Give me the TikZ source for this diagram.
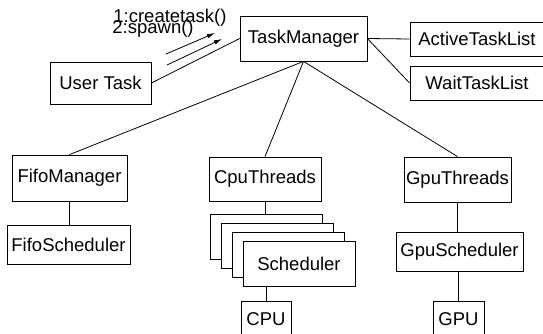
\documentclass[tikz,border=0pt]{standalone}
\usepackage{fontspec}
\setmainfont{Liberation Sans}
\usetikzlibrary{arrows.meta}
\begin{document}
\begin{tikzpicture}[x=1pt,y=-1pt,line width=0.8pt,
  box/.style={draw,fill=white,inner sep=0pt,font=\fontsize{18.5}{20}\selectfont},
  lbl/.style={inner sep=0pt,font=\fontsize{18.5}{20}\selectfont},
  msg/.style={-{Latex[length=8pt,width=4.5pt]}}]
\clip (0,0) rectangle (543,333);
\fill[white] (0,0) rectangle (543,333);
\node[box,minimum width=101pt,minimum height=42pt] (ut) at (100.5,83) {User Task};
\node[box,minimum width=127pt,minimum height=45pt] (tm) at (303.5,38.5) {TaskManager};
\node[box,minimum width=134pt,minimum height=34pt] (atl) at (477,39) {ActiveTaskList};
\node[box,minimum width=134pt,minimum height=34pt] (wtl) at (477,83) {WaitTaskList};
\node[box,minimum width=115pt,minimum height=46pt] (fm) at (69.5,178) {FifoManager};
\node[box,minimum width=123pt,minimum height=39pt] (fs) at (68.5,244.5) {FifoScheduler};
\node[box,minimum width=112pt,minimum height=44pt] (ct) at (265,179) {CpuThreads};
\node[box,minimum width=112pt,minimum height=45pt] (s1) at (266,236.5) {};
\node[box,minimum width=112pt,minimum height=45pt] (s2) at (277,245.5) {};
\node[box,minimum width=112pt,minimum height=45pt] (s3) at (288,254.5) {};
\node[box,minimum width=112pt,minimum height=45pt] (sch) at (299,263.5) {Scheduler};
\node[box,minimum width=50pt,minimum height=36pt] (cpu) at (266,319) {CPU};
\node[box,minimum width=107pt,minimum height=45pt] (gt) at (457.5,179.5) {GpuThreads};
\node[box,minimum width=127pt,minimum height=39pt] (gs) at (459.5,251.5) {GpuScheduler};
\node[box,minimum width=51pt,minimum height=36pt] (gpu) at (458.5,319) {GPU};
\node[lbl,anchor=base west] (l1) at (113,22) {1:createtask()};
\node[lbl,anchor=base west] (l2) at (112,33) {2:spawn()};
\coordinate (a1s) at (166,54);
\coordinate (a1e) at (215,33);
\coordinate (a2s) at (167,65);
\coordinate (a2e) at (222,39);
\draw[msg] (a1s) -- (a1e);
\draw[msg] (a2s) -- (a2e);
\draw (ut.east) -- (tm.west);
\draw (tm.east) -- (atl.west);
\draw (tm.east) -- (wtl.west);
\draw (tm.south) -- (fm.north);
\draw (tm.south) -- (ct.north);
\draw (tm.south) -- (gt.north);
\draw (fm.south) -- (fm.south |- fs.north);
\draw (ct.south) -- (ct.south |- s1.north);
\draw (cpu.north |- sch.south) -- (cpu.north);
\draw (gt.south) -- (gt.south |- gs.north);
\draw (gpu.north |- gs.south) -- (gpu.north);
\end{tikzpicture}
\end{document}
